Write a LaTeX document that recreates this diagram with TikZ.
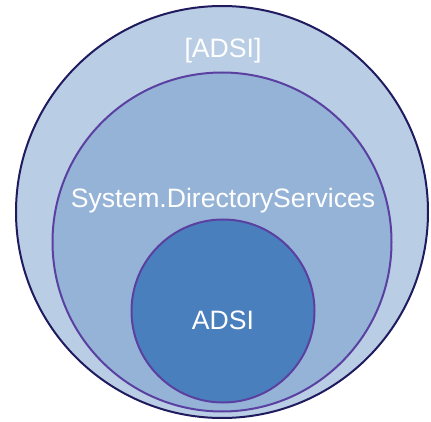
\documentclass[tikz,border=0pt]{standalone}
\usepackage{fontspec}
\setmainfont{Liberation Sans}
\definecolor{outerfill}{HTML}{B9CDE5}
\definecolor{midfill}{HTML}{95B3D7}
\definecolor{innerfill}{HTML}{4A7FBE}
\definecolor{outerline}{HTML}{1F1B5E}
\definecolor{innerline}{HTML}{5A40A0}
\begin{document}
\begin{tikzpicture}[x=1pt,y=-1pt,
  ring/.style={circle,inner sep=0pt,line width=2pt},
  lbl/.style={text=white,font=\fontsize{26.6}{30}\selectfont,anchor=base,inner sep=0pt}]
\useasboundingbox (0,0) rectangle (431,422);
\node[ring,draw=outerline,fill=outerfill,minimum size=412pt] (outer) at (222,212) {};
\node[ring,draw=innerline,fill=midfill,minimum size=339pt] (middle) at (222,242) {};
\node[ring,draw=innerline,fill=innerfill,minimum size=183pt] (inner) at (223,311) {};
\node[lbl] (t1) at (223,58) {[ADSI]};
\node[lbl] (t2) at (223,208) {System.DirectoryServices};
\node[lbl] (t3) at (223,329) {ADSI};
\end{tikzpicture}
\end{document}
